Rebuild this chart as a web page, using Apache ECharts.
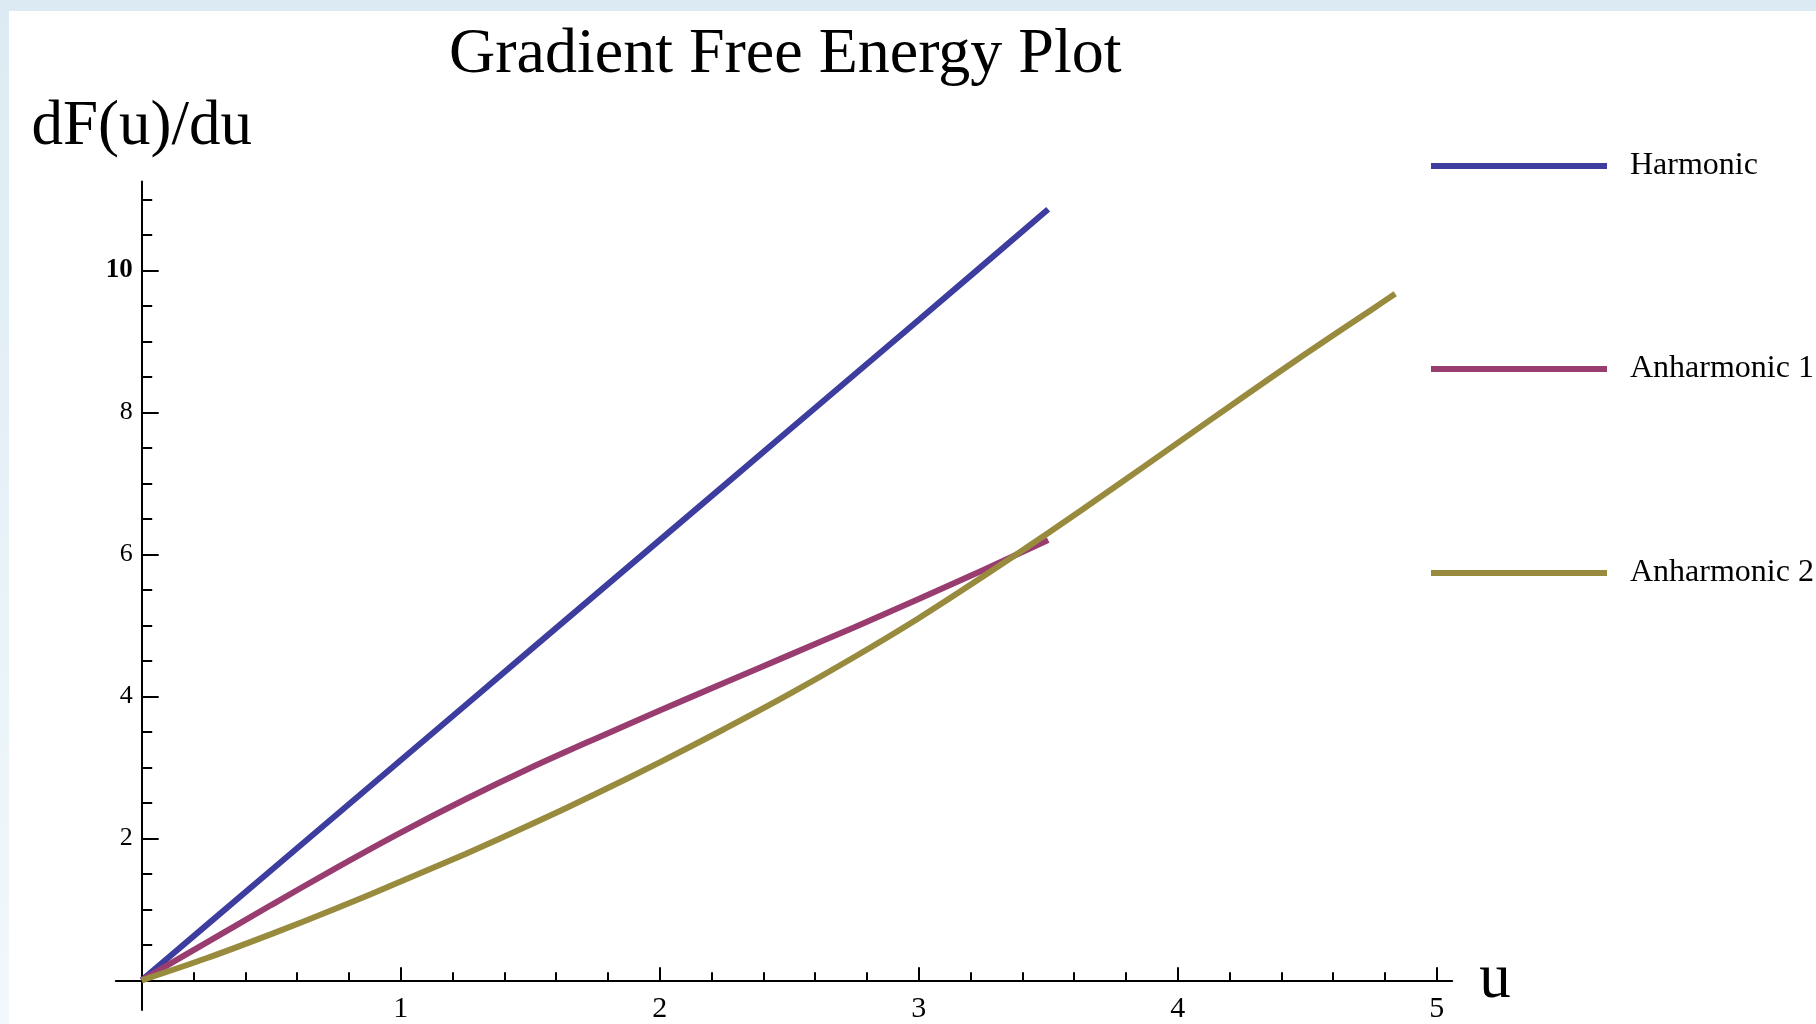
<!DOCTYPE html>
<html>
<head>
<meta charset="utf-8">
<script src="https://cdn.jsdelivr.net/npm/echarts@6/dist/echarts.min.js"></script>
<style>html,body{margin:0;padding:0;background:#fff}#c{width:1816px;height:1024px}</style>
</head>
<body>
<div id="c"></div>
<script>
// ---- data ----
const seriesNames = ['Harmonic', 'Anharmonic 1', 'Anharmonic 2'];
const harmonicU = [0, 0.5, 1, 1.5, 2, 2.5, 3, 3.5];
const harmonicV = [0, 1.55, 3.1, 4.65, 6.2, 7.75, 9.3, 10.86];
const anh1U = [0, 0.25, 0.5, 0.75, 1, 1.25, 1.5, 1.75, 2, 2.25, 2.5, 2.75, 3, 3.25, 3.5];
const anh1V = [0, 0.53, 1.06, 1.58, 2.08, 2.55, 2.99, 3.40, 3.80, 4.19, 4.58, 4.97, 5.37, 5.78, 6.20];
const anh2U = [0, 0.25, 0.5, 0.75, 1, 1.25, 1.5, 1.75, 2, 2.25, 2.5, 2.75, 3, 3.25, 3.5, 3.75, 4, 4.25, 4.5, 4.75, 4.84];
const anh2V = [0, 0.31, 0.65, 1.01, 1.39, 1.78, 2.19, 2.62, 3.07, 3.54, 4.03, 4.55, 5.10, 5.69, 6.30, 6.93, 7.57, 8.21, 8.84, 9.45, 9.67];
const xMajorTicks = [1, 2, 3, 4, 5];
const xMinorTicks = [0.2, 0.4, 0.6, 0.8, 1.2, 1.4, 1.6, 1.8, 2.2, 2.4, 2.6, 2.8, 3.2, 3.4, 3.6, 3.8, 4.2, 4.4, 4.6, 4.8];
const yMajorTicks = [2, 4, 6, 8, 10];
const yMinorTicks = [0.5, 1, 1.5, 2.5, 3, 3.5, 4.5, 5, 5.5, 6.5, 7, 7.5, 8.5, 9, 9.5, 10.5, 11];
const titleText = 'Gradient Free Energy Plot';
const xName = 'u';
const yName = 'dF(u)/du';

// ---- styling ----
const FONT = 'Liberation Serif';
const COLORS = ['#3d3d9f', '#993d71', '#998b3d'];
const X_MIN = -0.1, X_MAX = 5.06, Y_MIN = -0.42, Y_MAX = 11.25;

const pair = (us, vs) => us.map((u, i) => [u, vs[i]]);
const seriesData = [pair(harmonicU, harmonicV), pair(anh1U, anh1V), pair(anh2U, anh2V)];

const axisLineStyle = { color: '#000', width: 2 };
const tickStyle = { color: '#000', width: 2 };

const chart = echarts.init(document.getElementById('c'), null, { renderer: 'canvas' });
chart.setOption({
  backgroundColor: '#fff',
  animation: false,
  graphic: [
    { type: 'rect', silent: true, z: -10, shape: { x: 0, y: 0, width: 1816, height: 11 }, style: { fill: '#dcebf3' } },
    { type: 'rect', silent: true, z: -10, shape: { x: 0, y: 0, width: 9, height: 1024 },
      style: { fill: { type: 'linear', x: 0, y: 0, x2: 0, y2: 1, colorStops: [{ offset: 0, color: '#dcebf3' }, { offset: 1, color: '#f2f8fb' }] } } }
  ],
  title: {
    text: titleText, left: 449, top: 23, padding: 0,
    textStyle: { fontFamily: FONT, fontSize: 64, fontWeight: 'normal', color: '#000' }
  },
  grid: { left: 115.8, right: 363.8, top: 181.6, bottom: 13.9, containLabel: false, outerBoundsMode: 'none' },
  legend: seriesNames.map((n, i) => ({
    data: [n], left: 1431, top: [150, 353, 557][i], orient: 'horizontal', padding: 0,
    icon: 'rect', itemWidth: 176, itemHeight: 6, selectedMode: false,
    textStyle: { fontFamily: FONT, fontSize: 32, color: '#000', padding: [0, 0, 0, 18] }
  })),
  xAxis: [
    {
      type: 'value', min: X_MIN, max: X_MAX, position: 'bottom',
      axisLine: { onZero: true, onZeroAxisIndex: 0, lineStyle: axisLineStyle },
      axisTick: { inside: true, length: 13, customValues: xMajorTicks, lineStyle: tickStyle },
      axisLabel: { customValues: xMajorTicks, margin: -16, fontFamily: FONT, fontSize: 30, color: '#000' },
      splitLine: { show: false },
      name: xName, nameLocation: 'end', nameGap: 27,
      nameTextStyle: { fontFamily: FONT, fontSize: 63, color: '#000', padding: [0, 0, 9, 0] }
    },
    {
      type: 'value', min: X_MIN, max: X_MAX, position: 'bottom',
      axisLine: { show: false, onZero: true, onZeroAxisIndex: 0 },
      axisTick: { inside: true, length: 8, customValues: xMinorTicks, lineStyle: tickStyle },
      axisLabel: { show: false },
      splitLine: { show: false }
    }
  ],
  yAxis: [
    {
      type: 'value', min: Y_MIN, max: Y_MAX, position: 'left',
      axisLine: { onZero: true, onZeroAxisIndex: 0, lineStyle: axisLineStyle },
      axisTick: { inside: true, length: 17, customValues: yMajorTicks, lineStyle: tickStyle },
      axisLabel: {
        customValues: yMajorTicks, margin: -17, fontFamily: FONT, fontSize: 26, color: '#000',
        formatter: v => (v === 10 ? '{b|' + v + '}' : String(v)),
        rich: { b: { fontFamily: FONT, fontSize: 27, fontWeight: 'bold', color: '#000' } }
      },
      splitLine: { show: false },
      name: yName, nameLocation: 'end', nameGap: 23,
      nameTextStyle: { fontFamily: FONT, fontSize: 63, color: '#000' }
    },
    {
      type: 'value', min: Y_MIN, max: Y_MAX, position: 'left',
      axisLine: { show: false, onZero: true, onZeroAxisIndex: 0 },
      axisTick: { inside: true, length: 10.5, customValues: yMinorTicks, lineStyle: tickStyle },
      axisLabel: { show: false },
      splitLine: { show: false }
    }
  ],
  series: seriesNames.map((n, i) => ({
    name: n, type: 'line', xAxisIndex: 0, yAxisIndex: 0,
    data: seriesData[i], showSymbol: false, symbol: 'none',
    smooth: 0.3, color: COLORS[i],
    itemStyle: { color: COLORS[i] },
    lineStyle: { color: COLORS[i], width: 6 },
    z: 3 + i
  }))
});
</script>
</body>
</html>
